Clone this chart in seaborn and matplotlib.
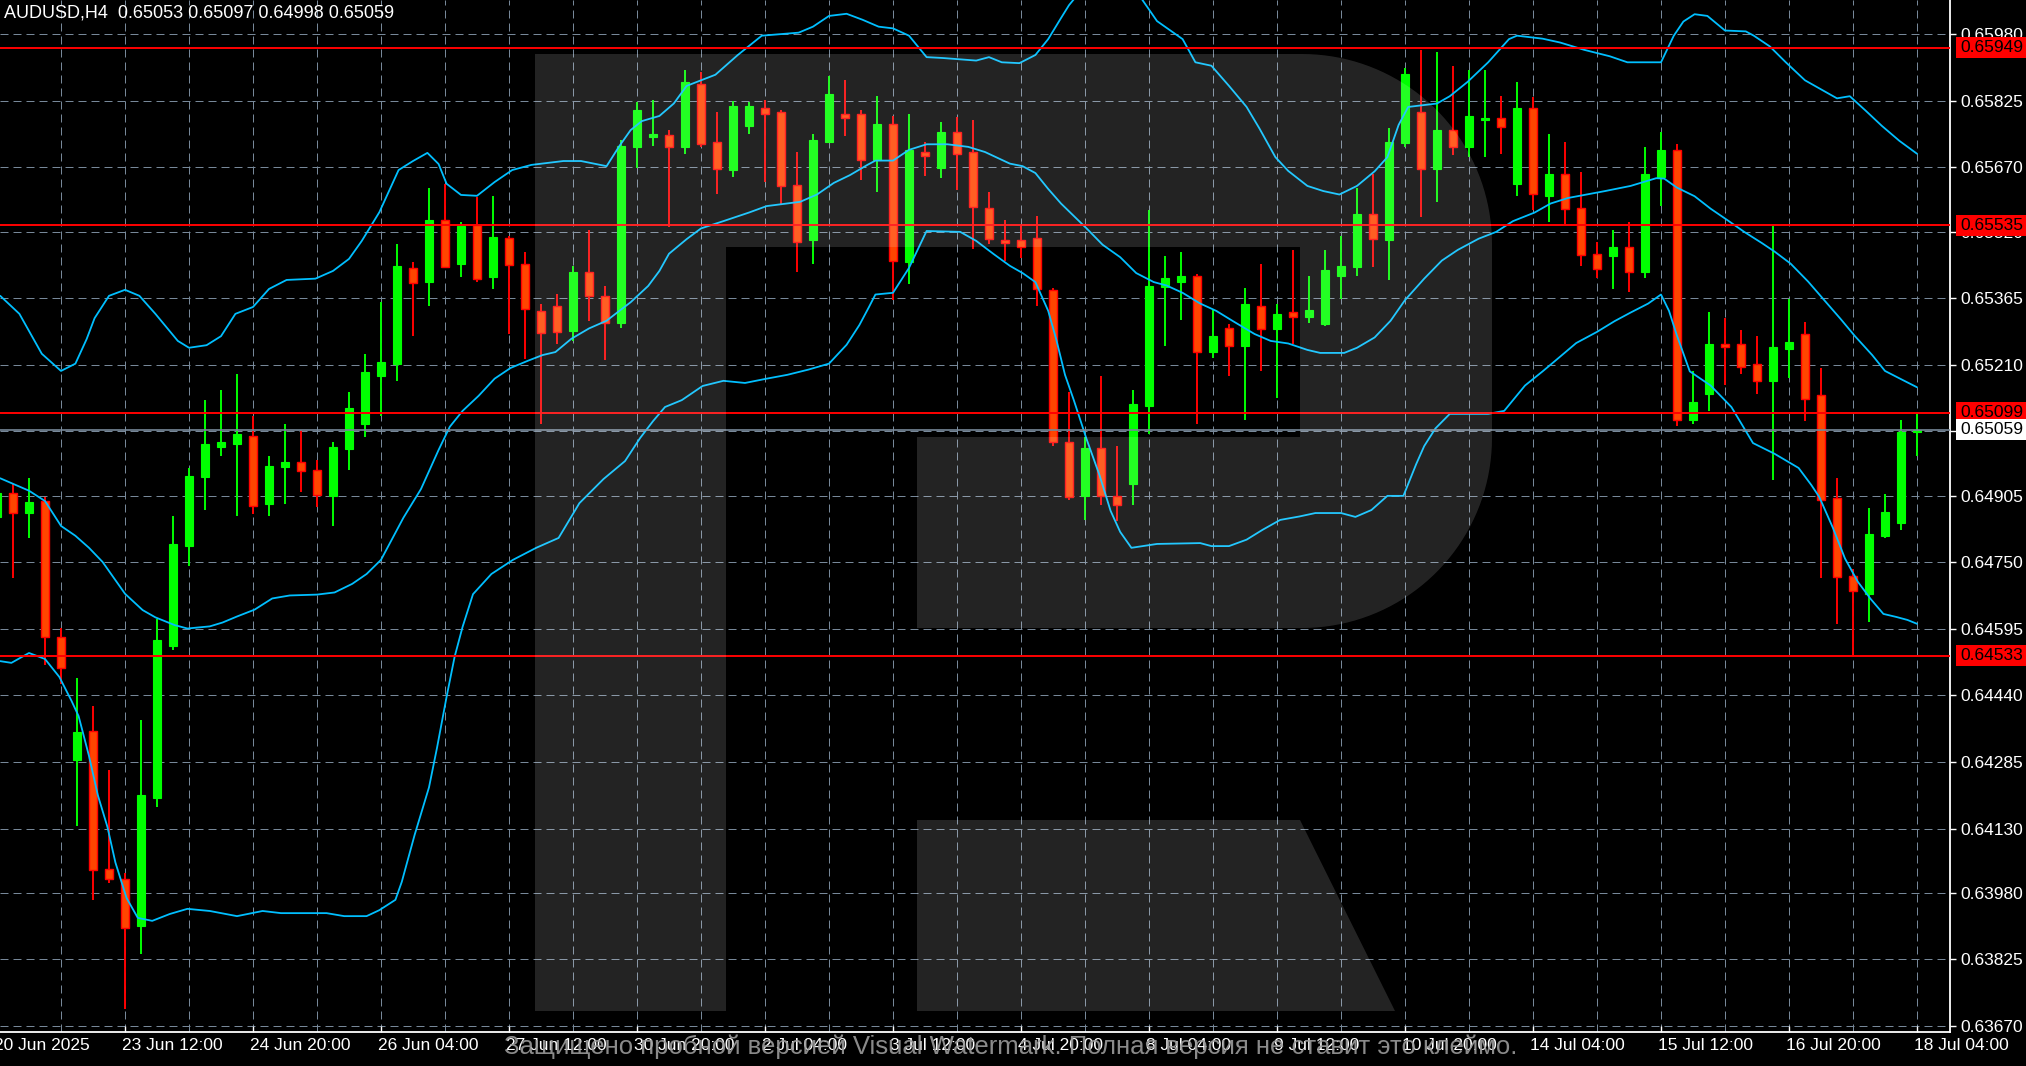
"""
AUDUSD H4, 20 Jun - 18 Jul 2025: candles, Bollinger bands and level lines (MT4 look).
"""
import numpy as np
import pandas as pd
import matplotlib
matplotlib.use("Agg")
import matplotlib.pyplot as plt
import matplotlib.transforms as mtransforms
from matplotlib.patches import Polygon, Rectangle
import seaborn as sns

# ── Candles (bar index, -1 is the half-cut bar on the left edge) ───────────────
BAR_IDX = list(range(-1, 120))
OPEN = [
    0.64856, 0.64912, 0.64865, 0.64893, 0.64577, 0.64290, 0.64358, 0.64036, 0.64012, 0.63903,
    0.64201, 0.64555, 0.64788, 0.64949, 0.65019, 0.65026, 0.65045, 0.64886, 0.64973, 0.64984,
    0.64965, 0.64905, 0.65014, 0.65073, 0.65184, 0.65213, 0.65435, 0.65403, 0.65548, 0.65445,
    0.65536, 0.65415, 0.65505, 0.65445, 0.65336, 0.65347, 0.65289, 0.65426, 0.65371, 0.65308,
    0.65718, 0.65741, 0.65745, 0.65718, 0.65865, 0.65729, 0.65664, 0.65767, 0.65808, 0.65799,
    0.65629, 0.65501, 0.65729, 0.65795, 0.65795, 0.65687, 0.65772, 0.65449, 0.65706, 0.65668,
    0.65752, 0.65706, 0.65575, 0.65501, 0.65501, 0.65505, 0.65385, 0.65030, 0.64905, 0.65016,
    0.64905, 0.64933, 0.65114, 0.65392, 0.65403, 0.65417, 0.65240, 0.65296, 0.65254, 0.65347,
    0.65294, 0.65333, 0.65322, 0.65306, 0.65417, 0.65438, 0.65562, 0.65501, 0.65727, 0.65799,
    0.65666, 0.65757, 0.65718, 0.65781, 0.65785, 0.65632, 0.65808, 0.65604, 0.65655, 0.65575,
    0.65469, 0.65464, 0.65485, 0.65426, 0.65648, 0.65711, 0.65082, 0.65143, 0.65259, 0.65259,
    0.65213, 0.65173, 0.65247, 0.65282, 0.65140, 0.64900, 0.64718, 0.64677, 0.64812, 0.64842,
    0.65053,
]
HIGH = [
    0.64919, 0.64933, 0.64946, 0.64903, 0.64597, 0.64480, 0.64416, 0.64266, 0.64026, 0.64383,
    0.64618, 0.64858, 0.64970, 0.65128, 0.65152, 0.65189, 0.65091, 0.64998, 0.65073, 0.65059,
    0.64989, 0.65030, 0.65147, 0.65236, 0.65356, 0.65492, 0.65449, 0.65622, 0.65632, 0.65543,
    0.65602, 0.65604, 0.65510, 0.65473, 0.65352, 0.65376, 0.65440, 0.65524, 0.65394, 0.65734,
    0.65822, 0.65827, 0.65757, 0.65897, 0.65892, 0.65799, 0.65825, 0.65822, 0.65827, 0.65804,
    0.65706, 0.65748, 0.65883, 0.65874, 0.65804, 0.65836, 0.65790, 0.65795, 0.65729, 0.65776,
    0.65788, 0.65781, 0.65613, 0.65548, 0.65534, 0.65557, 0.65389, 0.65147, 0.65043, 0.65184,
    0.65021, 0.65152, 0.65571, 0.65464, 0.65473, 0.65422, 0.65340, 0.65306, 0.65389, 0.65445,
    0.65352, 0.65478, 0.65417, 0.65478, 0.65510, 0.65622, 0.65655, 0.65762, 0.65901, 0.65944,
    0.65939, 0.65906, 0.65897, 0.65897, 0.65836, 0.65869, 0.65834, 0.65748, 0.65729, 0.65659,
    0.65496, 0.65524, 0.65543, 0.65718, 0.65752, 0.65725, 0.65196, 0.65333, 0.65319, 0.65291,
    0.65277, 0.65534, 0.65364, 0.65310, 0.65203, 0.64946, 0.64735, 0.64876, 0.64910, 0.65082,
    0.65097,
]
LOW = [
    0.64849, 0.64713, 0.64807, 0.64511, 0.64467, 0.64136, 0.63964, 0.64003, 0.63710, 0.63838,
    0.64181, 0.64546, 0.64742, 0.64872, 0.64998, 0.64858, 0.64863, 0.64858, 0.64886, 0.64914,
    0.64879, 0.64835, 0.64965, 0.65043, 0.65091, 0.65173, 0.65277, 0.65347, 0.65435, 0.65415,
    0.65403, 0.65387, 0.65282, 0.65224, 0.65073, 0.65259, 0.65266, 0.65313, 0.65222, 0.65296,
    0.65668, 0.65720, 0.65532, 0.65702, 0.65718, 0.65609, 0.65648, 0.65748, 0.65636, 0.65585,
    0.65426, 0.65445, 0.65727, 0.65743, 0.65641, 0.65613, 0.65361, 0.65399, 0.65650, 0.65645,
    0.65618, 0.65480, 0.65492, 0.65452, 0.65459, 0.65347, 0.65021, 0.64895, 0.64849, 0.64883,
    0.64847, 0.64883, 0.65050, 0.65254, 0.65315, 0.65073, 0.65226, 0.65184, 0.65082, 0.65196,
    0.65133, 0.65259, 0.65308, 0.65301, 0.65364, 0.65417, 0.65438, 0.65408, 0.65718, 0.65555,
    0.65589, 0.65699, 0.65695, 0.65695, 0.65702, 0.65604, 0.65571, 0.65543, 0.65539, 0.65440,
    0.65412, 0.65387, 0.65380, 0.65412, 0.65580, 0.65068, 0.65073, 0.65103, 0.65163, 0.65189,
    0.65143, 0.64942, 0.65179, 0.65080, 0.64713, 0.64607, 0.64530, 0.64611, 0.64807, 0.64826,
    0.64998,
]
CLOSE = [
    0.64912, 0.64865, 0.64890, 0.64577, 0.64504, 0.64355, 0.64033, 0.64012, 0.63898, 0.64208,
    0.64569, 0.64793, 0.64951, 0.65026, 0.65030, 0.65050, 0.64881, 0.64975, 0.64984, 0.64963,
    0.64907, 0.65019, 0.65109, 0.65193, 0.65217, 0.65440, 0.65401, 0.65548, 0.65438, 0.65534,
    0.65410, 0.65508, 0.65442, 0.65340, 0.65284, 0.65286, 0.65426, 0.65371, 0.65308, 0.65720,
    0.65804, 0.65748, 0.65718, 0.65869, 0.65725, 0.65666, 0.65813, 0.65813, 0.65795, 0.65627,
    0.65496, 0.65734, 0.65841, 0.65785, 0.65687, 0.65772, 0.65452, 0.65711, 0.65697, 0.65752,
    0.65702, 0.65578, 0.65503, 0.65494, 0.65485, 0.65387, 0.65030, 0.64903, 0.65016, 0.64905,
    0.64883, 0.65119, 0.65394, 0.65412, 0.65417, 0.65240, 0.65277, 0.65254, 0.65352, 0.65294,
    0.65329, 0.65322, 0.65338, 0.65431, 0.65440, 0.65562, 0.65503, 0.65729, 0.65888, 0.65666,
    0.65757, 0.65718, 0.65790, 0.65785, 0.65765, 0.65808, 0.65609, 0.65655, 0.65573, 0.65466,
    0.65433, 0.65485, 0.65426, 0.65655, 0.65711, 0.65082, 0.65123, 0.65259, 0.65252, 0.65206,
    0.65173, 0.65252, 0.65263, 0.65131, 0.64895, 0.64716, 0.64684, 0.64817, 0.64867, 0.65054,
    0.65059,
]

# ── Bollinger bands (vertices, x in bar units) ────────────────────────────────
UPPER_IDX = [
    -0.8, 0.4, 1.8, 3.0, 3.9, 4.6, 5.1, 6.0, 7.0, 7.9, 8.9, 10.3, 11.0, 12.1, 13.0, 13.9,
    15.0, 16.0, 17.1, 18.9, 20.0, 21.0, 21.8, 22.9, 24.1, 25.0, 25.9, 26.6, 27.1, 28.0,
    29.0, 30.1, 31.2, 32.4, 34.4, 35.5, 37.1, 37.9, 38.6, 39.3, 40.4, 41.3, 42.1, 43.9,
    45.3, 46.8, 49.1, 50.0, 51.0, 52.1, 53.1, 54.1, 55.0, 56.0, 57.1, 58.1, 60.2, 61.0,
    61.8, 62.9, 63.9, 64.7, 65.5, 66.0, 67.3, 68.9, 70.5, 71.5, 73.1, 73.9, 74.9, 76.0,
    77.1, 77.9, 78.9, 79.7, 80.9, 81.9, 82.9, 84.0, 85.1, 85.9, 86.6, 87.2, 89.0, 89.8,
    90.9, 92.2, 93.5, 94.0, 95.6, 96.7, 98.2, 99.8, 100.9, 103.0, 103.8, 104.4, 105.1,
    105.9, 107.0, 108.3, 108.8, 109.8, 110.8, 112.0, 113.0, 114.0, 114.8, 115.8, 116.8,
    117.9, 119.0,
]
UPPER = [
    0.65371, 0.65329, 0.65236, 0.65196, 0.65213, 0.65270, 0.65319, 0.65371, 0.65385, 0.65371,
    0.65329, 0.65266, 0.65250, 0.65256, 0.65277, 0.65329, 0.65345, 0.65387, 0.65408, 0.65411,
    0.65429, 0.65457, 0.65499, 0.65566, 0.65664, 0.65685, 0.65704, 0.65678, 0.65632, 0.65606,
    0.65604, 0.65636, 0.65664, 0.65676, 0.65685, 0.65685, 0.65673, 0.65720, 0.65757, 0.65778,
    0.65790, 0.65819, 0.65860, 0.65886, 0.65932, 0.65977, 0.65984, 0.65998, 0.66023, 0.66028,
    0.66014, 0.65998, 0.65994, 0.65977, 0.65927, 0.65925, 0.65919, 0.65927, 0.65915, 0.65913,
    0.65932, 0.65969, 0.66018, 0.66048, 0.66107, 0.66125, 0.66065, 0.66011, 0.65969, 0.65915,
    0.65907, 0.65860, 0.65811, 0.65761, 0.65694, 0.65662, 0.65627, 0.65615, 0.65607, 0.65627,
    0.65661, 0.65694, 0.65769, 0.65811, 0.65819, 0.65836, 0.65869, 0.65915, 0.65969, 0.65977,
    0.65970, 0.65961, 0.65944, 0.65929, 0.65915, 0.65915, 0.65977, 0.66010, 0.66027, 0.66023,
    0.65989, 0.65987, 0.65977, 0.65952, 0.65915, 0.65873, 0.65852, 0.65831, 0.65836, 0.65802,
    0.65767, 0.65732, 0.65702,
]
MIDDLE_IDX = [
    -0.8, 1.0, 2.0, 3.0, 3.9, 4.75, 5.6, 7.0, 8.1, 8.9, 10.1, 10.9, 12.3, 13.1, 14.0, 15.1,
    16.2, 17.3, 19.0, 20.1, 21.2, 22.1, 23.0, 24.4, 25.5, 26.6, 27.3, 28.1, 29.1, 30.1,
    31.1, 32.2, 33.1, 33.9, 34.9, 36.0, 37.1, 37.9, 38.6, 39.7, 40.4, 41.0, 42.1, 43.0,
    44.4, 46.0, 47.1, 49.2, 50.25, 51.3, 52.3, 53.4, 53.9, 55.0, 56.0, 57.1, 58.4, 59.7,
    60.75, 62.3, 63.1, 63.9, 64.7, 65.5, 66.3, 67.1, 68.1, 69.2, 70.2, 71.3, 72.1, 73.1,
    74.2, 75.2, 76.25, 77.6, 78.6, 79.7, 80.9, 81.7, 83.2, 84.0, 85.1, 86.1, 87.0, 88.2,
    89.3, 90.3, 91.6, 92.7, 93.75, 95.1, 96.1, 97.2, 99.5, 101.1, 102.7, 103.2, 104.0,
    105.1, 106.1, 107.2, 108.2, 109.3, 110.1, 111.1, 112.2, 113.2, 114.25, 115.1, 116.2,
    117.0, 118.1, 119.0,
]
MIDDLE = [
    0.64946, 0.64917, 0.64893, 0.64835, 0.64812, 0.64784, 0.64751, 0.64677, 0.64639, 0.64622,
    0.64604, 0.64596, 0.64601, 0.64610, 0.64624, 0.64640, 0.64666, 0.64673, 0.64675, 0.64680,
    0.64700, 0.64723, 0.64756, 0.64854, 0.64921, 0.65012, 0.65066, 0.65103, 0.65138, 0.65178,
    0.65203, 0.65220, 0.65233, 0.65240, 0.65271, 0.65295, 0.65313, 0.65336, 0.65356, 0.65394,
    0.65429, 0.65469, 0.65503, 0.65528, 0.65545, 0.65565, 0.65580, 0.65590, 0.65607, 0.65634,
    0.65652, 0.65676, 0.65686, 0.65686, 0.65711, 0.65724, 0.65724, 0.65718, 0.65706, 0.65679,
    0.65673, 0.65657, 0.65620, 0.65586, 0.65557, 0.65528, 0.65490, 0.65461, 0.65424, 0.65403,
    0.65395, 0.65378, 0.65353, 0.65336, 0.65312, 0.65282, 0.65266, 0.65260, 0.65245, 0.65238,
    0.65238, 0.65250, 0.65274, 0.65313, 0.65361, 0.65411, 0.65453, 0.65478, 0.65504, 0.65520,
    0.65545, 0.65565, 0.65586, 0.65599, 0.65615, 0.65627, 0.65645, 0.65644, 0.65623, 0.65603,
    0.65574, 0.65546, 0.65520, 0.65494, 0.65474, 0.65446, 0.65404, 0.65361, 0.65316, 0.65278,
    0.65233, 0.65196, 0.65175, 0.65158,
]
LOWER_IDX = [
    -0.8, -0.1, 1.0, 2.0, 2.9, 3.65, 4.1, 4.75, 5.3, 5.9, 6.4, 7.1, 7.8, 8.7, 9.8, 10.9,
    12.3, 14.0, 15.6, 16.75, 19.6, 20.7, 22.1, 22.9, 23.9, 24.3, 25.1, 26.0, 26.5, 27.1,
    27.6, 28.1, 28.75, 29.9, 31.25, 32.7, 34.1, 35.4, 36.9, 38.25, 39.2, 40.0, 40.75, 41.8,
    43.1, 44.4, 45.75, 47.1, 48.4, 49.7, 51.0, 52.1, 52.9, 53.5, 53.9, 55.0, 56.0, 57.1,
    59.2, 60.2, 61.3, 62.3, 63.1, 63.9, 64.7, 65.2, 65.75, 66.3, 67.1, 67.9, 68.6, 69.2,
    69.9, 71.5, 74.2, 74.9, 76.0, 77.1, 78.1, 79.2, 80.4, 81.4, 83.0, 83.9, 84.9, 85.9,
    86.9, 87.7, 88.2, 88.9, 89.8, 92.2, 93.2, 94.5, 95.6, 96.4, 97.7, 99.0, 100.1, 101.1,
    102.2, 103.0, 103.5, 104.0, 104.8, 106.1, 107.4, 108.75, 110.1, 111.6, 112.4, 112.9,
    113.75, 114.5, 115.3, 116.1, 116.9, 117.7, 118.4, 119.0,
]
LOWER = [
    0.64520, 0.64516, 0.64539, 0.64525, 0.64483, 0.64428, 0.64392, 0.64299, 0.64208, 0.64134,
    0.64051, 0.63968, 0.63922, 0.63915, 0.63931, 0.63943, 0.63938, 0.63926, 0.63938, 0.63933,
    0.63933, 0.63926, 0.63926, 0.63940, 0.63964, 0.64006, 0.64115, 0.64226, 0.64318, 0.64437,
    0.64530, 0.64600, 0.64676, 0.64723, 0.64756, 0.64784, 0.64807, 0.64888, 0.64944, 0.64986,
    0.65040, 0.65079, 0.65112, 0.65128, 0.65161, 0.65173, 0.65168, 0.65178, 0.65187, 0.65199,
    0.65213, 0.65257, 0.65303, 0.65345, 0.65374, 0.65378, 0.65436, 0.65522, 0.65520, 0.65499,
    0.65468, 0.65441, 0.65424, 0.65403, 0.65336, 0.65270, 0.65187, 0.65128, 0.65037, 0.64954,
    0.64870, 0.64821, 0.64784, 0.64793, 0.64795, 0.64788, 0.64788, 0.64803, 0.64826, 0.64849,
    0.64857, 0.64865, 0.64865, 0.64856, 0.64872, 0.64905, 0.64905, 0.64979, 0.65021, 0.65062,
    0.65096, 0.65096, 0.65103, 0.65162, 0.65195, 0.65220, 0.65261, 0.65287, 0.65312, 0.65332,
    0.65353, 0.65374, 0.65336, 0.65278, 0.65195, 0.65162, 0.65112, 0.65028, 0.65003, 0.64970,
    0.64930, 0.64902, 0.64830, 0.64759, 0.64705, 0.64665, 0.64630, 0.64623, 0.64616, 0.64607,
]

# ── Levels, axis ticks, labels ────────────────────────────────────────────────
LEVELS = [0.65949, 0.65535, 0.65099, 0.64533]
CURRENT = 0.65059
Y_TICKS = [0.65980, 0.65825, 0.65670, 0.65520, 0.65365, 0.65210, 0.65055, 0.64905,
           0.64750, 0.64595, 0.64440, 0.64285, 0.64130, 0.63980, 0.63825, 0.63670]
VGRID_IDX = [3, 7, 11, 15, 19, 23, 27, 31, 35, 39, 43, 47, 51, 55, 59, 63, 67, 71, 75,
             79, 83, 87, 91, 95, 99, 103, 107, 111, 115, 119]
DATE_IDX = [-1, 7, 15, 23, 31, 39, 47, 55, 63, 71, 79, 87, 95, 103, 111, 119]
DATE_LABELS = ["20 Jun 2025", "23 Jun 12:00", "24 Jun 20:00", "26 Jun 04:00",
               "27 Jun 12:00", "30 Jun 20:00", "2 Jul 04:00", "3 Jul 12:00",
               "4 Jul 20:00", "8 Jul 04:00", "9 Jul 12:00", "10 Jul 20:00",
               "14 Jul 04:00", "15 Jul 12:00", "16 Jul 20:00", "18 Jul 04:00"]
SYMBOL = "AUDUSD,H4"
WATERMARK = "Защищено пробной версией Visual Watermark. Полная версия не ставит это клеймо."

# ── Style ─────────────────────────────────────────────────────────────────────
BULL = "#00ff00"
BEAR_FACE = "#ff4500"
BEAR_EDGE = "#ff0000"
BAND = "#00bfff"
GRID = "#778899"
FS = 12.5

sns.set_theme(style="dark", rc={"axes.facecolor": "black", "figure.facecolor": "black"})
plt.rcParams["font.family"] = ["Liberation Sans", "DejaVu Sans"]

W, H, DPI = 2026, 1066, 100
PLOT_W, PLOT_H = 1950, 1032
Y_TOP, Y_BOT = 0.660601, 0.636561

fig = plt.figure(figsize=(W / DPI, H / DPI), dpi=DPI, facecolor="black")
ax = fig.add_axes([0, (H - PLOT_H) / H, PLOT_W / W, PLOT_H / H])
ax.set_facecolor("black")

# grid
for v in Y_TICKS:
    ax.axhline(v, color=GRID, lw=0.72, ls=(0, (8, 5)), zorder=0.5)
for k in VGRID_IDX:
    ax.axvline(k, color=GRID, lw=0.72, ls=(0, (8, 5)), zorder=0.5)

# candles
df = pd.DataFrame({"idx": BAR_IDX, "open": OPEN, "high": HIGH, "low": LOW, "close": CLOSE})
up = (df["close"] >= df["open"]).to_numpy()
body_lo = np.minimum(df["open"], df["close"]).to_numpy()
body_h = np.maximum((df["close"] - df["open"]).abs().to_numpy(), 0.00004)
ax.vlines(df["idx"], df["low"], df["high"], colors=np.where(up, BULL, BEAR_EDGE),
          lw=1.4, zorder=3)
ax.bar(df["idx"][up], body_h[up], bottom=body_lo[up], width=0.56,
       color=BULL, edgecolor=BULL, lw=0.8, zorder=4)
ax.bar(df["idx"][~up], body_h[~up], bottom=body_lo[~up], width=0.56,
       color=BEAR_FACE, edgecolor=BEAR_EDGE, lw=1.0, zorder=4)

# Bollinger bands
bands = pd.concat([
    pd.DataFrame({"idx": UPPER_IDX, "price": UPPER, "band": "upper"}),
    pd.DataFrame({"idx": MIDDLE_IDX, "price": MIDDLE, "band": "middle"}),
    pd.DataFrame({"idx": LOWER_IDX, "price": LOWER, "band": "lower"}),
])
sns.lineplot(data=bands, x="idx", y="price", hue="band",
             palette={"upper": BAND, "middle": BAND, "lower": BAND},
             estimator=None, errorbar=None, legend=False, lw=1.3, ax=ax, zorder=5)

# level lines + current price
for lv in LEVELS:
    ax.axhline(lv, color="#ff0000", lw=1.4, zorder=6)
ax.axhline(CURRENT, color=GRID, lw=1.2, zorder=6)

ax.set_xlim(-0.8125, 121.0625)
ax.set_ylim(Y_BOT, Y_TOP)
ax.set_xlabel("")
ax.set_ylabel("")

for s in ["top", "left"]:
    ax.spines[s].set_visible(False)
for s in ["right", "bottom"]:
    ax.spines[s].set_visible(True)
    ax.spines[s].set_color("white")
    ax.spines[s].set_linewidth(1.3)

ax.yaxis.tick_right()
ax.set_yticks(Y_TICKS)
ax.set_yticklabels([f"{v:.5f}" for v in Y_TICKS])
ax.tick_params(axis="y", right=True, left=False, direction="out", length=4.3, width=1,
               color="white", labelcolor="white", labelsize=FS, pad=2.9)
ax.set_xticks(DATE_IDX[1:])
ax.set_xticklabels([])
ax.tick_params(axis="x", bottom=True, direction="in", length=4.3, width=1, color="white")

# date labels under the axis
lab_tr = ax.get_xaxis_transform() + mtransforms.ScaledTranslation(-3 / DPI, -13 / DPI,
                                                                   fig.dpi_scale_trans)
for k, s in zip(DATE_IDX, DATE_LABELS):
    ax.text(k, 0, s, transform=lab_tr, ha="left", va="center", color="white",
            fontsize=FS, clip_on=False)

# price boxes on the right axis
box_tr = mtransforms.blended_transform_factory(ax.transAxes, ax.transData)
bh = 21 * (Y_TOP - Y_BOT) / PLOT_H
bx0, bw = 1956 / PLOT_W, (W - 1956) / PLOT_W
for lv, fc in [(v, "#ff0000") for v in LEVELS] + [(CURRENT, "white")]:
    ax.add_patch(Rectangle((bx0, lv - bh / 2), bw, bh, transform=box_tr, fc=fc, ec="none",
                           clip_on=False, zorder=7))
    ax.text(1960 / PLOT_W, lv, f"{lv:.5f}", transform=box_tr, ha="left", va="center",
            color="black", fontsize=FS, clip_on=False, zorder=8)

# header
fig.text(4 / W, 1 - 13 / H,
         f"{SYMBOL}  {OPEN[-1]:.5f} {HIGH[-1]:.5f} {LOW[-1]:.5f} {CLOSE[-1]:.5f}",
         color="white", fontsize=13, ha="left", va="center")

# ── Watermark overlay (pixel coordinates) ─────────────────────────────────────
ov = fig.add_axes([0, 0, 1, 1], facecolor="none")
ov.set_xlim(0, W)
ov.set_ylim(H, 0)
ov.axis("off")


def arc(cx, cy, r, a0, a1, n=40):
    t = np.radians(np.linspace(a0, a1, n))
    return np.column_stack([cx + r * np.cos(t), cy + r * np.sin(t)])


r_body = np.vstack([
    [[535, 54]],
    arc(1302, 244, 190, -90, 0),
    arc(1302, 438, 190, 0, 90),
    [[917, 628], [917, 437], [1300, 437], [1300, 247], [726, 247], [726, 1011], [535, 1011]],
])
r_leg = np.array([[917, 820], [1300, 820], [1395, 1011], [917, 1011]])
for pts in (r_body, r_leg):
    ov.add_patch(Polygon(pts, closed=True, fc=(1, 1, 1, 0.14), ec="none"))

ov.text(1011, 1047, WATERMARK, ha="center", va="center", color="#9a9a9a",
        fontsize=18.5, alpha=0.9)

fig.savefig("out.png", dpi=DPI, facecolor="black")
